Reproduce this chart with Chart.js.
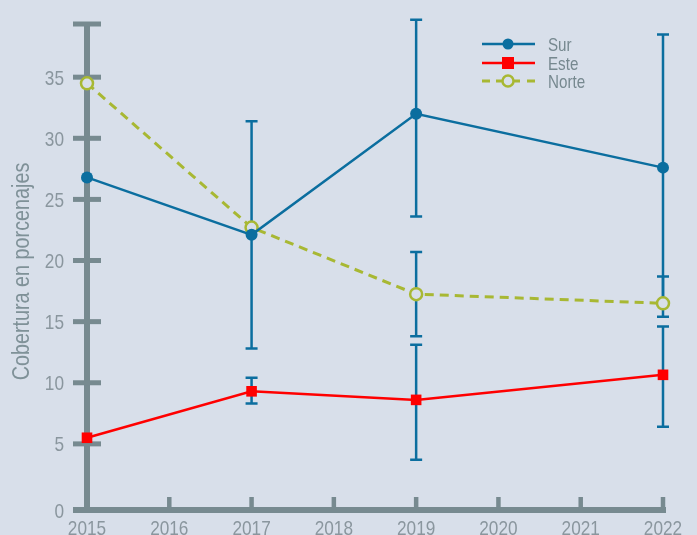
<!DOCTYPE html>
<html>
<head>
<meta charset="utf-8">
<script src="https://cdn.jsdelivr.net/npm/chart.js@4.4.0/dist/chart.umd.min.js"></script>
<style>
  html, body { margin: 0; padding: 0; background: #d8dfea; }
  canvas { display: block; }
</style>
</head>
<body>
<canvas id="chart" width="697" height="535"></canvas>
<script>
// Survey years and coverage (%) per zone
const years = [2015, 2017, 2019, 2022];
const sur = [26.8, 22.1, 32.0, 27.6];
const surLow = [null, 12.8, 23.6, 16.6];
const surHigh = [null, 31.4, 39.7, 38.5];
const este = [5.5, 9.3, 8.6, 10.65];
const esteLow = [null, 8.3, 3.7, 6.4];
const esteHigh = [null, 10.4, 13.1, 14.6];
const norte = [34.5, 22.7, 17.25, 16.5];
const norteLow = [null, null, 13.8, 15.4];
const norteHigh = [null, null, 20.7, 18.7];
const yTicks = [0, 5, 10, 15, 20, 25, 30, 35];
const xTicks = [2015, 2016, 2017, 2018, 2019, 2020, 2021, 2022];
const yMax = 39.35;
const yTitle = 'Cobertura en porcenajes';

const BG = '#d8dfea';
const AXIS = '#778a90';
const LABEL = '#8a969e';
const TITLE = '#7f9198';
const LEGEND = '#76888f';
const BLUE = '#0b6e9f';
const RED = '#ff0000';
const GREEN = '#a8b833';
const FONT = "'Liberation Sans', Arial, sans-serif";

const pts = vals => years.map((yr, i) => ({ x: yr, y: vals[i] }));

const series = [
  { label: 'Sur', data: sur, low: surLow, high: surHigh, color: BLUE, style: 'circle', dash: [], fill: BLUE },
  { label: 'Este', data: este, low: esteLow, high: esteHigh, color: RED, style: 'rect', dash: [], fill: RED },
  { label: 'Norte', data: norte, low: norteLow, high: norteHigh, color: GREEN, style: 'circle', dash: [9, 6], fill: BG }
];

// narrow lettering: regular sans squeezed horizontally
function narrowText(ctx, text, x, y, size, align, sx, color, rot) {
  ctx.save();
  ctx.translate(x, y);
  if (rot) ctx.rotate(rot);
  ctx.scale(sx, 1);
  ctx.font = size + 'px ' + FONT;
  ctx.fillStyle = color;
  ctx.textAlign = align;
  ctx.textBaseline = 'alphabetic';
  ctx.fillText(text, 0, 0);
  ctx.restore();
}

const decor = {
  id: 'decor',
  beforeDraw(chart) {
    const { ctx } = chart;
    ctx.save();
    ctx.fillStyle = BG;
    ctx.fillRect(0, 0, chart.width, chart.height);
    ctx.restore();
  },
  beforeDatasetsDraw(chart) {
    const { ctx, chartArea, scales } = chart;
    const x = scales.x, y = scales.y;
    const x0 = x.getPixelForValue(2015);
    const base = chartArea.bottom + 5;
    ctx.save();
    ctx.strokeStyle = AXIS;
    // vertical spine
    ctx.lineWidth = 6;
    ctx.beginPath();
    ctx.moveTo(x0, y.getPixelForValue(yMax));
    ctx.lineTo(x0, base + 3);
    ctx.stroke();
    // horizontal spine
    ctx.beginPath();
    ctx.moveTo(x0 - 14, base);
    ctx.lineTo(x.getPixelForValue(2022) + 3, base);
    ctx.stroke();
    // y cross ticks
    ctx.lineWidth = 5;
    yTicks.filter(v => v > 0).concat([yMax]).forEach(v => {
      const py = y.getPixelForValue(v);
      ctx.beginPath();
      ctx.moveTo(x0 - 14, py);
      ctx.lineTo(x0 + 14, py);
      ctx.stroke();
    });
    // x ticks pointing up
    ctx.lineWidth = 4.5;
    xTicks.filter(v => v > 2015).forEach(v => {
      const px = x.getPixelForValue(v);
      ctx.beginPath();
      ctx.moveTo(px, base);
      ctx.lineTo(px, base - 13);
      ctx.stroke();
    });
    ctx.restore();

    // tick labels and axis title
    yTicks.forEach(v => {
      const py = v === 0 ? base : y.getPixelForValue(v);
      narrowText(ctx, String(v), 64, py + 7.5, 21, 'right', 0.82, LABEL);
    });
    xTicks.forEach(v => {
      narrowText(ctx, String(v), x.getPixelForValue(v), 535, 21, 'center', 0.82, LABEL);
    });
    narrowText(ctx, yTitle, 29, 271.5, 23, 'center', 0.86, TITLE, -Math.PI / 2);

    // error bars
    ctx.save();
    ctx.strokeStyle = BLUE;
    ctx.lineWidth = 2.5;
    series.forEach(s => {
      years.forEach((yr, i) => {
        if (s.low[i] == null) return;
        const px = x.getPixelForValue(yr);
        const lo = y.getPixelForValue(s.low[i]);
        const hi = y.getPixelForValue(s.high[i]);
        ctx.beginPath();
        ctx.moveTo(px, lo);
        ctx.lineTo(px, hi);
        ctx.moveTo(px - 6, lo);
        ctx.lineTo(px + 6, lo);
        ctx.moveTo(px - 6, hi);
        ctx.lineTo(px + 6, hi);
        ctx.stroke();
      });
    });
    ctx.restore();
  },
  afterDraw(chart) {
    // legend in the upper right
    const { ctx } = chart;
    const x1 = 482, x2 = 535, xm = 508, tx = 548;
    const rows = [44, 63, 81];
    ctx.save();
    series.forEach((s, i) => {
      const ry = rows[i];
      ctx.strokeStyle = s.color;
      ctx.lineWidth = s.dash.length ? 3 : 2.5;
      ctx.beginPath();
      if (s.dash.length) {
        ctx.moveTo(x1, ry); ctx.lineTo(x1 + 8, ry);
        ctx.moveTo(x2 - 8, ry); ctx.lineTo(x2, ry);
        ctx.moveTo(xm - 12, ry); ctx.lineTo(xm + 12, ry);
      } else {
        ctx.moveTo(x1, ry); ctx.lineTo(x2, ry);
      }
      ctx.stroke();
      if (s.style === 'rect') {
        ctx.fillStyle = s.fill;
        ctx.fillRect(xm - 6, ry - 6, 12, 12);
      } else {
        ctx.beginPath();
        ctx.arc(xm, ry, 5.5, 0, Math.PI * 2);
        ctx.fillStyle = s.fill;
        ctx.fill();
        if (s.fill === BG) {
          ctx.lineWidth = 2.5;
          ctx.strokeStyle = s.color;
          ctx.stroke();
        }
      }
      narrowText(ctx, s.label, tx, ry + 6.5, 18.5, 'left', 0.82, LEGEND);
    });
    ctx.restore();
  }
};

new Chart(document.getElementById('chart'), {
  type: 'line',
  data: {
    datasets: series.map(s => ({
      label: s.label,
      data: pts(s.data),
      borderColor: s.color,
      backgroundColor: s.fill,
      borderWidth: s.dash.length ? 3 : 2.5,
      borderDash: s.dash,
      pointStyle: s.style,
      pointRadius: s.style === 'rect' ? 7.5 : 6,
      pointBorderWidth: s.fill === BG ? 2.5 : 0,
      pointBorderColor: s.color,
      pointBackgroundColor: s.fill,
      tension: 0,
      clip: false
    }))
  },
  options: {
    responsive: false,
    animation: false,
    layout: { padding: { top: 24, right: 34, left: 0, bottom: 0 } },
    plugins: { legend: { display: false }, tooltip: { enabled: false } },
    scales: {
      x: {
        type: 'linear',
        min: 2015,
        max: 2022,
        grid: { display: false },
        border: { display: false },
        ticks: { display: false },
        afterFit: sc => { sc.height = 30; }
      },
      y: {
        min: 0,
        max: yMax,
        grid: { display: false },
        border: { display: false },
        ticks: { display: false },
        afterFit: sc => { sc.width = 87; }
      }
    }
  },
  plugins: [decor]
});
</script>
</body>
</html>
